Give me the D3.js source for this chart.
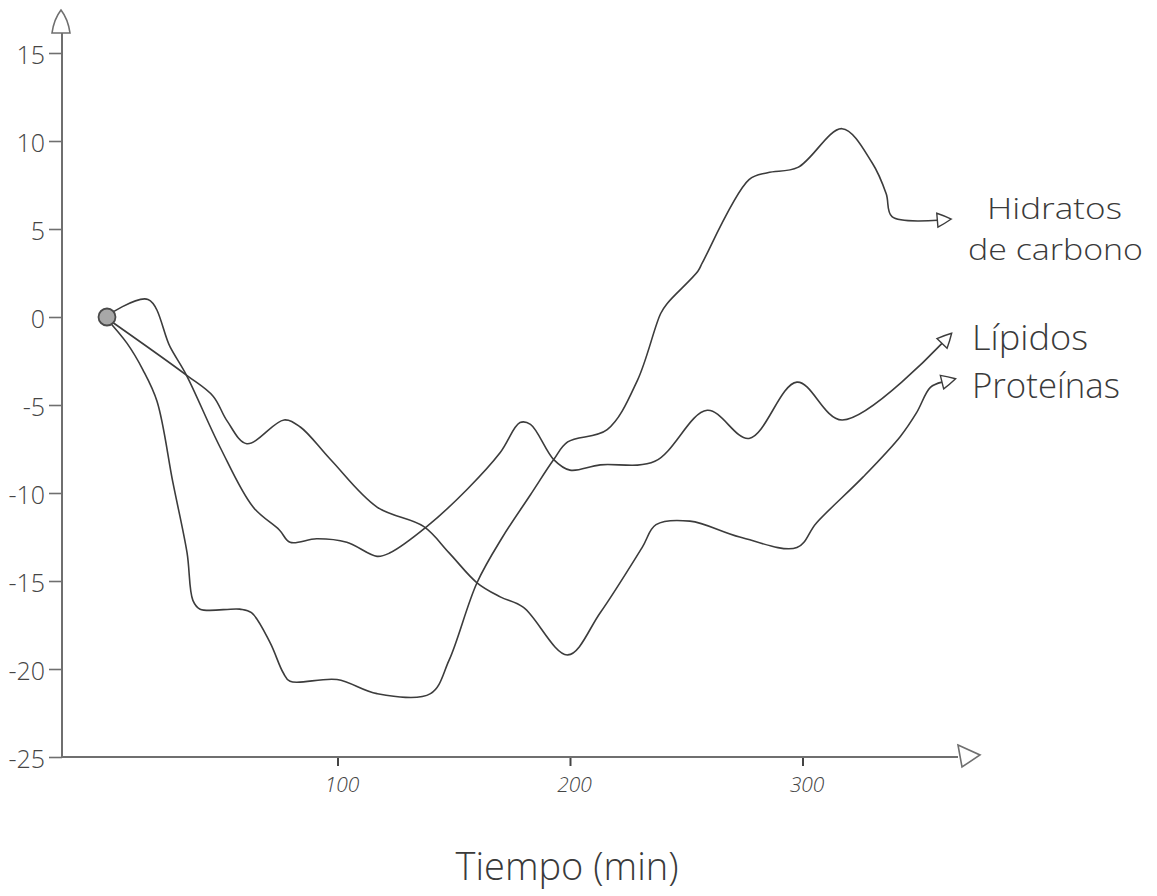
<!DOCTYPE html>
<html>
<head>
<meta charset="utf-8">
<script src="https://cdn.jsdelivr.net/npm/d3@7"></script>
<style>
  body { margin: 0; background: #fff; }
  svg { display: block; }
  text { font-family: "Open Sans", "Noto Sans", sans-serif; font-weight: 300; fill: #3a3a3a; }
</style>
</head>
<body>
<svg id="chart" width="1157" height="896"></svg>
<script>
// Time (min) and value readings for each nutrient curve
const timeHidratos = [0, 9.5, 16.3, 22.4, 29.2, 35.3, 37.8, 40.9, 58, 63, 71, 76.6, 79.6, 99.8, 117, 140, 148, 160, 171, 183, 193, 199, 216, 229, 239, 242, 255, 257, 277, 285, 298, 317, 330, 336, 338.5, 358];
const valHidratos  = [0, -1.5, -3.0, -4.8, -9.4, -13.4, -16.1, -16.6, -16.6, -16.8, -18.5, -20.2, -20.7, -20.6, -21.4, -21.4, -19.5, -15.1, -12.5, -10.1, -8.1, -7.1, -6.4, -3.6, 0.2, 0.8, 2.6, 3.1, 7.8, 8.2, 8.5, 10.7, 8.75, 7.0, 5.7, 5.5];

const timeLipidos = [0, 18.5, 28, 35, 49.5, 63.7, 75, 79.6, 91, 104, 117, 122.6, 138.5, 155.7, 170, 178.5, 183, 193, 200, 213, 236.5, 259, 277, 297.6, 317, 360];
const valLipidos  = [0, 1.0, -1.7, -3.3, -7.4, -10.8, -12.1, -12.8, -12.6, -12.8, -13.6, -13.4, -11.9, -9.8, -7.7, -6.0, -6.1, -8.1, -8.7, -8.4, -8.2, -5.3, -6.9, -3.7, -5.85, -1.5];

const timeProteinas = [0, 35, 46.5, 52.5, 61, 77, 84, 97, 117, 137, 148, 160, 170, 180, 199, 213, 231, 237, 251.6, 273, 297.6, 306, 326, 342, 349, 355, 360];
const valProteinas  = [0, -3.3, -4.5, -5.9, -7.2, -5.85, -6.25, -8.1, -10.8, -11.9, -13.4, -15.1, -15.9, -16.5, -19.2, -16.8, -13.1, -11.8, -11.6, -12.5, -13.1, -11.7, -9.1, -6.8, -5.45, -4.0, -3.7];

const seriesNames = ["Hidratos de carbono", "Lípidos", "Proteínas"];

// Axis ticks
const yTicks = [15, 10, 5, 0, -5, -10, -15, -20, -25];
const xTicks = [100, 200, 300];
const xTitle = "Tiempo (min)";

const svg = d3.select("#chart");

const x = d3.scaleLinear().domain([0, 360]).range([105, 942]);
const y = d3.scaleLinear().domain([-25, 15]).range([757, 53]);

const axisX = 62;        // horizontal position of the vertical axis
const axisY = y(-25);    // vertical position of the horizontal axis
const axisColor = "#6f6f6f";
const inkColor = "#3c3c3c";
const labelColor = "#454545";

// Open arrowhead used at the end of each curve
const defs = svg.append("defs");
defs.append("marker")
  .attr("id", "openArrow")
  .attr("viewBox", "-2 -10 20 20")
  .attr("refX", 0).attr("refY", 0)
  .attr("markerWidth", 20).attr("markerHeight", 20)
  .attr("markerUnits", "userSpaceOnUse")
  .attr("orient", "auto")
  .append("path")
  .attr("d", "M0,-7 Q7,-4 14,0 Q7,4 0,7 Z")
  .attr("fill", "#fff")
  .attr("stroke", inkColor)
  .attr("stroke-width", 1.4);

// Y axis
const yAxis = d3.axisLeft(y)
  .tickValues(yTicks)
  .tickSize(13)
  .tickPadding(4)
  .tickFormat(d => String(d));

const gy = svg.append("g")
  .attr("transform", `translate(${axisX},0)`)
  .attr("color", labelColor)
  .call(yAxis);
gy.select(".domain").remove();
gy.selectAll(".tick line").attr("stroke", axisColor).attr("stroke-width", 1.6);
gy.selectAll(".tick text")
  .attr("font-size", 25)
  .attr("dy", "0.42em")
  .style("fill", labelColor);

svg.append("line")
  .attr("x1", axisX).attr("x2", axisX)
  .attr("y1", axisY).attr("y2", 33)
  .attr("stroke", axisColor).attr("stroke-width", 2);
svg.append("path")
  .attr("d", `M${axisX - 10},33 Q${axisX - 8},19 ${axisX - 1},10 Q${axisX + 6},19 ${axisX + 8},33 Z`)
  .attr("fill", "#fff").attr("stroke", axisColor).attr("stroke-width", 1.6);

// X axis
const xAxis = d3.axisBottom(x)
  .tickValues(xTicks)
  .tickSize(9)
  .tickPadding(11)
  .tickFormat(d => String(d));

const gx = svg.append("g")
  .attr("transform", `translate(0,${axisY})`)
  .attr("color", labelColor)
  .call(xAxis);
gx.select(".domain").remove();
gx.selectAll(".tick line").attr("stroke", "#444").attr("stroke-width", 2);
gx.selectAll(".tick text")
  .attr("font-size", 21)
  .attr("font-style", "italic")
  .attr("dx", 4)
  .style("fill", labelColor);

svg.append("line")
  .attr("x1", axisX).attr("x2", 958)
  .attr("y1", axisY).attr("y2", axisY)
  .attr("stroke", axisColor).attr("stroke-width", 2);
svg.append("path")
  .attr("d", `M958,${axisY - 12} L980,${axisY - 2} L962,${axisY + 10} Z`)
  .attr("fill", "#fff").attr("stroke", axisColor).attr("stroke-width", 1.6);

// Curves
const line = d3.line()
  .x(d => x(d[0]))
  .y(d => y(d[1]))
  .curve(d3.curveCatmullRom.alpha(0.5));

const series = [
  { name: seriesNames[0], t: timeHidratos, v: valHidratos },
  { name: seriesNames[1], t: timeLipidos, v: valLipidos },
  { name: seriesNames[2], t: timeProteinas, v: valProteinas }
];

svg.append("g").selectAll("path")
  .data(series)
  .join("path")
  .attr("d", s => line(s.t.map((t, i) => [t, s.v[i]])))
  .attr("fill", "none")
  .attr("stroke", inkColor)
  .attr("stroke-width", 1.6)
  .attr("stroke-linejoin", "round")
  .attr("marker-end", "url(#openArrow)");

// Shared starting point
svg.append("circle")
  .attr("cx", x(0) + 2).attr("cy", y(0))
  .attr("r", 8.5)
  .attr("fill", "#a8a8a8")
  .attr("stroke", "#4a4a4a")
  .attr("stroke-width", 1.8);

// Curve labels (the first one wraps onto two lines)
const labelG = svg.append("g").attr("font-size", 35);
const hText = labelG.append("text").attr("font-size", 30);
hText.append("tspan").attr("x", 987).attr("y", 219)
  .attr("textLength", 135).attr("lengthAdjust", "spacingAndGlyphs")
  .text(seriesNames[0].split(" ")[0]);
hText.append("tspan").attr("x", 968).attr("y", 260)
  .attr("textLength", 175).attr("lengthAdjust", "spacingAndGlyphs")
  .text(seriesNames[0].split(" ").slice(1).join(" "));
labelG.append("text").attr("x", 972).attr("y", 350)
  .attr("textLength", 116).attr("lengthAdjust", "spacingAndGlyphs")
  .text(seriesNames[1]);
labelG.append("text").attr("x", 972).attr("y", 398)
  .attr("textLength", 148).attr("lengthAdjust", "spacingAndGlyphs")
  .text(seriesNames[2]);

// X axis title
svg.append("text")
  .attr("x", 567).attr("y", 880)
  .attr("text-anchor", "middle")
  .attr("font-size", 38)
  .attr("textLength", 223).attr("lengthAdjust", "spacingAndGlyphs")
  .text(xTitle);
</script>
</body>
</html>
